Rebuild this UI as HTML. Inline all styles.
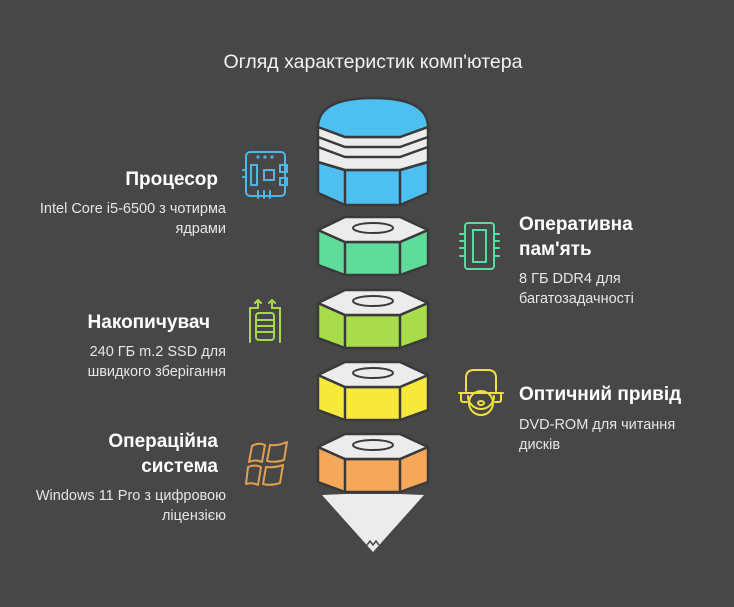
<!DOCTYPE html>
<html><head><meta charset="utf-8"><style>
html,body{margin:0;padding:0;background:#474747;}
svg{display:block;}
text{font-family:"Liberation Sans",sans-serif;}
.t{fill:#fff;font-weight:bold;font-size:19px;}
.d{fill:#e6e6e6;font-size:14.5px;}
</style></head><body>
<svg width="734" height="607" viewBox="0 0 734 607">
<rect width="734" height="607" fill="#474747"/>
<text x="373" y="68" text-anchor="middle" fill="#f2f2f2" font-size="19.5">Огляд характеристик комп'ютера</text>
<g stroke="#3a3a3a" stroke-width="2.5" stroke-linejoin="round">
<path d="M345,205 L318,193 L318,162 L345,170 L400,170 L428,162 L428,193 L400,205 Z" fill="#4dbff0"/>
<path d="M318,162 L318,127 L345,137 L400,137 L428,127 L428,162 L400,170 L345,170 Z" fill="#ececec"/>
<path d="M318,137 L345,147 L400,147 L428,137 M318,147 L345,157 L400,157 L428,147" fill="none"/>
<path d="M318,127 Q318,98 373,98 Q428,98 428,127 L400,137 L345,137 Z" fill="#4dbff0"/>
<line x1="345" y1="170" x2="345" y2="205"/><line x1="400" y1="170" x2="400" y2="205"/>
</g>
<g stroke="#3a3a3a" stroke-width="2.5" stroke-linejoin="round">
<g transform="translate(0,217)"><path d="M318,13 L345,25 L400,25 L428,13 L428,48 L400,58 L345,58 L318,48 Z" fill="#5fdc9c"/><path d="M345,0 L400,0 L428,13 L400,25 L345,25 L318,13 Z" fill="#ececec"/><line x1="345" y1="25" x2="345" y2="58"/><line x1="400" y1="25" x2="400" y2="58"/><ellipse cx="373" cy="11" rx="20" ry="5" fill="none" stroke-width="2"/></g>
<g transform="translate(0,290)"><path d="M318,13 L345,25 L400,25 L428,13 L428,48 L400,58 L345,58 L318,48 Z" fill="#a8dc4a"/><path d="M345,0 L400,0 L428,13 L400,25 L345,25 L318,13 Z" fill="#ececec"/><line x1="345" y1="25" x2="345" y2="58"/><line x1="400" y1="25" x2="400" y2="58"/><ellipse cx="373" cy="11" rx="20" ry="5" fill="none" stroke-width="2"/></g>
<g transform="translate(0,362)"><path d="M318,13 L345,25 L400,25 L428,13 L428,48 L400,58 L345,58 L318,48 Z" fill="#f7e93a"/><path d="M345,0 L400,0 L428,13 L400,25 L345,25 L318,13 Z" fill="#ececec"/><line x1="345" y1="25" x2="345" y2="58"/><line x1="400" y1="25" x2="400" y2="58"/><ellipse cx="373" cy="11" rx="20" ry="5" fill="none" stroke-width="2"/></g>
<g transform="translate(0,434)"><path d="M318,13 L345,25 L400,25 L428,13 L428,48 L400,58 L345,58 L318,48 Z" fill="#f6a85a"/><path d="M345,0 L400,0 L428,13 L400,25 L345,25 L318,13 Z" fill="#ececec"/><line x1="345" y1="25" x2="345" y2="58"/><line x1="400" y1="25" x2="400" y2="58"/><ellipse cx="373" cy="11" rx="20" ry="5" fill="none" stroke-width="2"/></g>
</g>
<path d="M322,495 L345,494 L400,494 L424,495 L373,552 Z" fill="#ececec"/>
<path d="M367,545 L370,541 L373,545 L376,541 L379,545" fill="none" stroke="#474747" stroke-width="1.5"/>

<g fill="none" stroke="#4db8e8" stroke-width="2" stroke-linecap="round">
<rect x="246" y="152" width="39" height="44" rx="4"/>
<rect x="251" y="165" width="6" height="20"/><rect x="264" y="170" width="10" height="10"/>
<rect x="280" y="165" width="7" height="7"/><rect x="280" y="178" width="7" height="7"/>
<circle cx="258" cy="157" r="0.6"/><circle cx="265" cy="157" r="0.6"/><circle cx="272" cy="157" r="0.6"/>
<line x1="243" y1="170" x2="246" y2="170"/><line x1="243" y1="177" x2="246" y2="177"/>
<line x1="258" y1="191" x2="258" y2="198"/><line x1="264" y1="191" x2="264" y2="198"/><line x1="270" y1="191" x2="270" y2="198"/>
</g>
<g fill="none" stroke="#a8d84a" stroke-width="2" stroke-linecap="round">
<path d="M250,342 L250,308 L258,308 L258,300 M258,300 L255,303 M258,300 L261,303"/>
<path d="M280,342 L280,308 L272,308 L272,300 M272,300 L269,303 M272,300 L275,303"/>
<rect x="256" y="313" width="18" height="27" rx="3"/>
<line x1="257" y1="320" x2="273" y2="320"/><line x1="257" y1="326" x2="273" y2="326"/><line x1="257" y1="332" x2="273" y2="332"/>
</g>
<g fill="none" stroke="#5fd8a0" stroke-width="2" stroke-linecap="round">
<rect x="465" y="223" width="29" height="46" rx="3"/><rect x="473" y="230" width="13" height="32"/>
<line x1="460" y1="234" x2="465" y2="234"/><line x1="460" y1="241" x2="465" y2="241"/><line x1="460" y1="248" x2="465" y2="248"/><line x1="460" y1="256" x2="465" y2="256"/>
<line x1="494" y1="234" x2="499" y2="234"/><line x1="494" y1="241" x2="499" y2="241"/><line x1="494" y1="248" x2="499" y2="248"/><line x1="494" y1="256" x2="499" y2="256"/>
</g>
<g fill="none" stroke="#f0e040" stroke-width="2" stroke-linecap="round">
<path d="M466,391 L466,378 Q466,370 474,370 L488,370 Q496,370 496,378 L496,391"/>
<path d="M459,393 L503,393 M461,393 L461,400 Q461,402 464,402 L467,402 M501,393 L501,400 Q501,402 498,402 L495,402"/>
<path d="M468,396 A13,13 0 0 0 494,396"/>
<circle cx="481" cy="403" r="12"/><ellipse cx="481" cy="403" rx="3" ry="2"/>
</g>
<g fill="none" stroke="#e0a050" stroke-width="2" stroke-linejoin="round">
<path d="M252,446 Q258,442 265,445 L262,462 Q256,459 249,462 Z"/>
<path d="M270,445 Q278,446 287,442 L284,460 Q275,463 267,461 Z"/>
<path d="M248,467 Q255,464 261,467 L258,485 Q252,482 246,484 Z"/>
<path d="M266,467 Q274,468 283,465 L280,483 Q271,486 263,484 Z"/>
</g>

<text class="t" x="218" y="185" text-anchor="end">Процесор</text>
<text class="d" x="226" y="213" text-anchor="end">Intel Core i5-6500 з чотирма</text>
<text class="d" x="226" y="233" text-anchor="end">ядрами</text>

<text class="t" x="519" y="230">Оперативна</text>
<text class="t" x="519" y="255">пам'ять</text>
<text class="d" x="519" y="283">8 ГБ DDR4 для</text>
<text class="d" x="519" y="303">багатозадачності</text>

<text class="t" x="210" y="328" text-anchor="end">Накопичувач</text>
<text class="d" x="226" y="356" text-anchor="end">240 ГБ m.2 SSD для</text>
<text class="d" x="226" y="376" text-anchor="end">швидкого зберігання</text>

<text class="t" x="519" y="400">Оптичний привід</text>
<text class="d" x="519" y="429">DVD-ROM для читання</text>
<text class="d" x="519" y="449">дисків</text>

<text class="t" x="218" y="447" text-anchor="end">Операційна</text>
<text class="t" x="218" y="472" text-anchor="end">система</text>
<text class="d" x="226" y="500" text-anchor="end">Windows 11 Pro з цифровою</text>
<text class="d" x="226" y="520" text-anchor="end">ліцензією</text>
</svg>
</body></html>
